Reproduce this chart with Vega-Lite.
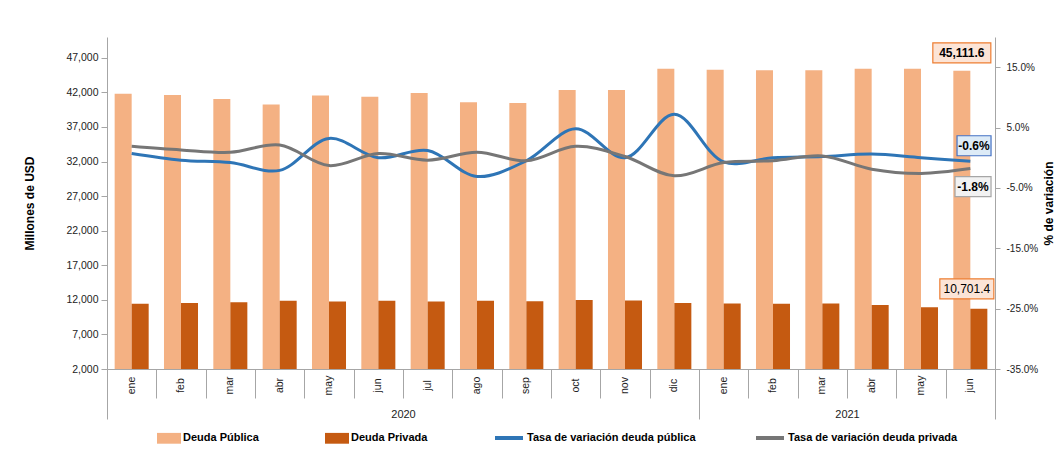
{
  "$schema": "https://vega.github.io/schema/vega-lite/v6.json",
  "width": 888,
  "height": 332,
  "autosize": {"type": "none"},
  "padding": {"left": 107, "top": 37, "right": 66, "bottom": 90},
  "background": "white",
  "config": {
    "locale": {"number": {"decimal": ".", "thousands": ",", "grouping": [3], "currency": ["$", ""], "minus": "-"}},
    "view": {"stroke": null},
    "font": "Liberation Sans",
    "axis": {"grid": false, "domainColor": "#A6A6A6", "tickColor": "#A6A6A6", "labelColor": "#222222", "labelFontSize": 10.5, "titleFontSize": 12, "titleFontWeight": "bold", "titleColor": "#000000"}
  },
  "data": {
    "values": [
      {"mes": "ene 2020", "Deuda Pública": 41800, "Deuda Privada": 11420, "Tasa de variación deuda pública": 0.007, "Tasa de variación deuda privada": 0.019},
      {"mes": "feb 2020", "Deuda Pública": 41600, "Deuda Privada": 11560, "Tasa de variación deuda pública": -0.004, "Tasa de variación deuda privada": 0.013},
      {"mes": "mar 2020", "Deuda Pública": 41050, "Deuda Privada": 11650, "Tasa de variación deuda pública": -0.008, "Tasa de variación deuda privada": 0.009},
      {"mes": "abr 2020", "Deuda Pública": 40250, "Deuda Privada": 11850, "Tasa de variación deuda pública": -0.021, "Tasa de variación deuda privada": 0.021},
      {"mes": "may 2020", "Deuda Pública": 41550, "Deuda Privada": 11750, "Tasa de variación deuda pública": 0.032, "Tasa de variación deuda privada": -0.013},
      {"mes": "jun 2020", "Deuda Pública": 41350, "Deuda Privada": 11850, "Tasa de variación deuda pública": 0.0, "Tasa de variación deuda privada": 0.007},
      {"mes": "jul 2020", "Deuda Pública": 41900, "Deuda Privada": 11750, "Tasa de variación deuda pública": 0.012, "Tasa de variación deuda privada": -0.004},
      {"mes": "ago 2020", "Deuda Pública": 40550, "Deuda Privada": 11850, "Tasa de variación deuda pública": -0.031, "Tasa de variación deuda privada": 0.009},
      {"mes": "sep 2020", "Deuda Pública": 40450, "Deuda Privada": 11800, "Tasa de variación deuda pública": -0.005, "Tasa de variación deuda privada": -0.005},
      {"mes": "oct 2020", "Deuda Pública": 42350, "Deuda Privada": 11990, "Tasa de variación deuda pública": 0.048, "Tasa de variación deuda privada": 0.019},
      {"mes": "nov 2020", "Deuda Pública": 42350, "Deuda Privada": 11900, "Tasa de variación deuda pública": 0.0, "Tasa de variación deuda privada": 0.002},
      {"mes": "dic 2020", "Deuda Pública": 45400, "Deuda Privada": 11560, "Tasa de variación deuda pública": 0.072, "Tasa de variación deuda privada": -0.030},
      {"mes": "ene 2021", "Deuda Pública": 45250, "Deuda Privada": 11460, "Tasa de variación deuda pública": -0.007, "Tasa de variación deuda privada": -0.008},
      {"mes": "feb 2021", "Deuda Pública": 45200, "Deuda Privada": 11420, "Tasa de variación deuda pública": 0.0, "Tasa de variación deuda privada": -0.005},
      {"mes": "mar 2021", "Deuda Pública": 45200, "Deuda Privada": 11460, "Tasa de variación deuda pública": 0.002, "Tasa de variación deuda privada": 0.003},
      {"mes": "abr 2021", "Deuda Pública": 45400, "Deuda Privada": 11270, "Tasa de variación deuda pública": 0.006, "Tasa de variación deuda privada": -0.019},
      {"mes": "may 2021", "Deuda Pública": 45400, "Deuda Privada": 10930, "Tasa de variación deuda pública": 0.0, "Tasa de variación deuda privada": -0.026},
      {"mes": "jun 2021", "Deuda Pública": 45111.6, "Deuda Privada": 10701.4, "Tasa de variación deuda pública": -0.006, "Tasa de variación deuda privada": -0.018}
    ]
  },
  "layer": [
    {
      "layer": [
        {
          "transform": [{"fold": ["Deuda Pública", "Deuda Privada"], "as": ["serie", "valor"]}],
          "encoding": {
            "x": {"field": "mes", "type": "ordinal", "sort": null, "scale": {"paddingInner": 0, "paddingOuter": 0},
              "axis": {"title": null, "ticks": false, "domain": true, "labelAngle": -90, "labelAlign": "center", "labelBaseline": "middle", "labelPadding": 16, "labelExpr": "split(datum.label, ' ')[0]", "labelFontSize": 10.5}},
            "xOffset": {"field": "serie", "type": "nominal", "sort": ["Deuda Pública", "Deuda Privada"], "scale": {"paddingInner": 0, "paddingOuter": 0.45}},
            "y": {"field": "valor", "type": "quantitative", "stack": null, "scale": {"domain": [2000, 50000], "nice": false, "zero": false},
              "axis": {"title": "Millones de USD", "values": [2000, 7000, 12000, 17000, 22000, 27000, 32000, 37000, 42000, 47000], "format": ",.0f", "tickSize": 6, "labelPadding": 3, "titlePadding": 29, "titleAngle": -90}}
          },
          "layer": [
            {
              "mark": {"type": "bar"},
              "encoding": {
                "y2": {"datum": 2000},
                "fill": {"field": "serie", "type": "nominal",
                  "scale": {"domain": ["Deuda Pública", "Deuda Privada"], "range": ["#F4B183", "#C55A11"]},
                  "legend": {"orient": "none", "legendX": 50, "legendY": 389, "direction": "horizontal", "columns": 2, "title": null, "columnPadding": 66, "symbolType": "M-1,-0.45L1,-0.45L1,0.45L-1,0.45Z", "symbolSize": 576, "symbolStrokeWidth": 0, "labelFont": "Liberation Sans", "labelFontWeight": "bold", "labelFontSize": 11, "labelColor": "#000000", "labelOffset": 2, "labelLimit": 300}
                }
              }
            },
            {
              "transform": [{"filter": "datum.mes == 'jun 2021' && datum.serie == 'Deuda Pública'"}],
              "mark": {"type": "point", "shape": "M-2.9,-2.8L2.9,-2.8L2.9,-0.8L-2.9,-0.8Z", "size": 400, "filled": true, "fill": "#FCE4D6", "stroke": "#ED7D31", "strokeWidth": 1.2, "opacity": 1}
            },
            {
              "transform": [{"filter": "datum.mes == 'jun 2021' && datum.serie == 'Deuda Pública'"}],
              "mark": {"type": "text", "dy": -18, "fontWeight": "bold", "fontSize": 12, "fill": "#000000"},
              "encoding": {"text": {"field": "valor", "type": "quantitative", "format": ",.1f"}}
            },
            {
              "transform": [{"filter": "datum.mes == 'jun 2021' && datum.serie == 'Deuda Privada'"}],
              "mark": {"type": "point", "shape": "M-3.9,-3.0L1.5,-3.0L1.5,-1.0L-3.9,-1.0Z", "size": 400, "filled": true, "fill": "#FCE4D6", "stroke": "#ED7D31", "strokeWidth": 1.2, "opacity": 1}
            },
            {
              "transform": [{"filter": "datum.mes == 'jun 2021' && datum.serie == 'Deuda Privada'"}],
              "mark": {"type": "text", "dx": -12, "dy": -20, "fontSize": 12, "fill": "#000000"},
              "encoding": {"text": {"field": "valor", "type": "quantitative", "format": ",.1f"}}
            }
          ]
        },
        {
          "transform": [{"fold": ["Tasa de variación deuda pública", "Tasa de variación deuda privada"], "as": ["serie", "tasa"]}],
          "encoding": {
            "x": {"field": "mes", "type": "ordinal", "sort": null, "scale": {"paddingInner": 0, "paddingOuter": 0},
              "axis": {"title": null, "ticks": false, "domain": true, "labelAngle": -90, "labelAlign": "center", "labelBaseline": "middle", "labelPadding": 16, "labelExpr": "split(datum.label, ' ')[0]", "labelFontSize": 10.5}},
            "y": {"field": "tasa", "type": "quantitative", "scale": {"domain": [-0.35, 0.2], "nice": false, "zero": false},
              "axis": {"orient": "right", "title": "% de variación", "values": [-0.35, -0.25, -0.15, -0.05, 0.05, 0.15], "format": ".1%", "tickSize": 5, "labelPadding": 6, "titlePadding": 18, "titleAngle": -90, "labelFontSize": 10}}
          },
          "layer": [
            {
              "mark": {"type": "line", "interpolate": "catmull-rom", "strokeWidth": 3},
              "encoding": {
                "stroke": {"field": "serie", "type": "nominal",
                  "scale": {"domain": ["Tasa de variación deuda pública", "Tasa de variación deuda privada"], "range": ["#2E75B6", "#767676"]},
                  "legend": {"orient": "none", "legendX": 386, "legendY": 385, "direction": "horizontal", "columns": 2, "title": null, "columnPadding": 52, "symbolType": "stroke", "symbolSize": 784, "symbolStrokeWidth": 4, "labelFont": "Liberation Sans", "labelFontWeight": "bold", "labelFontSize": 11, "labelColor": "#000000", "labelOffset": 2, "labelLimit": 300}
                }
              }
            },
            {
              "transform": [{"filter": "datum.mes == 'jun 2021' && datum.serie == 'Tasa de variación deuda pública'"}],
              "mark": {"type": "point", "shape": "M-1.33,-2.56L2.07,-2.56L2.07,-0.56L-1.33,-0.56Z", "size": 400, "filled": true, "fill": "#DDEBF7", "stroke": "#4472C4", "strokeWidth": 1.2, "opacity": 1}
            },
            {
              "transform": [{"filter": "datum.mes == 'jun 2021' && datum.serie == 'Tasa de variación deuda pública'"}],
              "mark": {"type": "text", "dx": 3.7, "dy": -15.6, "fontWeight": "bold", "fontSize": 12, "fill": "#000000"},
              "encoding": {"text": {"field": "tasa", "type": "quantitative", "format": ".1%"}}
            },
            {
              "transform": [{"filter": "datum.mes == 'jun 2021' && datum.serie == 'Tasa de variación deuda privada'"}],
              "mark": {"type": "point", "shape": "M-1.53,0.8L2.07,0.8L2.07,2.8L-1.53,2.8Z", "size": 400, "filled": true, "fill": "#F2F2F2", "stroke": "#A6A6A6", "strokeWidth": 1.2, "opacity": 1}
            },
            {
              "transform": [{"filter": "datum.mes == 'jun 2021' && datum.serie == 'Tasa de variación deuda privada'"}],
              "mark": {"type": "text", "dx": 2.7, "dy": 18, "fontWeight": "bold", "fontSize": 12, "fill": "#000000"},
              "encoding": {"text": {"field": "tasa", "type": "quantitative", "format": ".1%"}}
            }
          ]
        }
      ],
      "resolve": {"scale": {"y": "independent"}}
    },
    {
      "data": {"values": [{"pos": 6, "anio": "2020"}, {"pos": 15, "anio": "2021"}]},
      "mark": {"type": "rule", "opacity": 0},
      "encoding": {
        "x": {"field": "pos", "type": "quantitative", "scale": {"domain": [0, 18], "nice": false, "zero": false},
          "axis": {"orient": "bottom", "title": null, "domain": false, "grid": false, "values": [0, 1, 2, 3, 4, 5, 6, 7, 8, 9, 10, 11, 12, 13, 14, 15, 16, 17, 18],
            "labelExpr": "datum.value == 6 ? '2020' : datum.value == 15 ? '2021' : ''",
            "tickSize": 29,
            "labelPadding": 10, "labelFontSize": 11, "labelAngle": 0, "labelOverlap": false, "labelFlush": false, "labelBound": false}}
      }
    },
    {
      "data": {"values": [{"limite": 0}, {"limite": 12}, {"limite": 18}]},
      "mark": {"type": "rule", "opacity": 0},
      "encoding": {
        "x": {"field": "limite", "type": "quantitative", "scale": {"domain": [0, 18], "nice": false, "zero": false},
          "axis": {"orient": "bottom", "title": null, "domain": false, "grid": false, "values": [0, 12, 18], "labels": false, "tickSize": 50}}
      }
    }
  ],
  "resolve": {"scale": {"x": "independent"}}
}
